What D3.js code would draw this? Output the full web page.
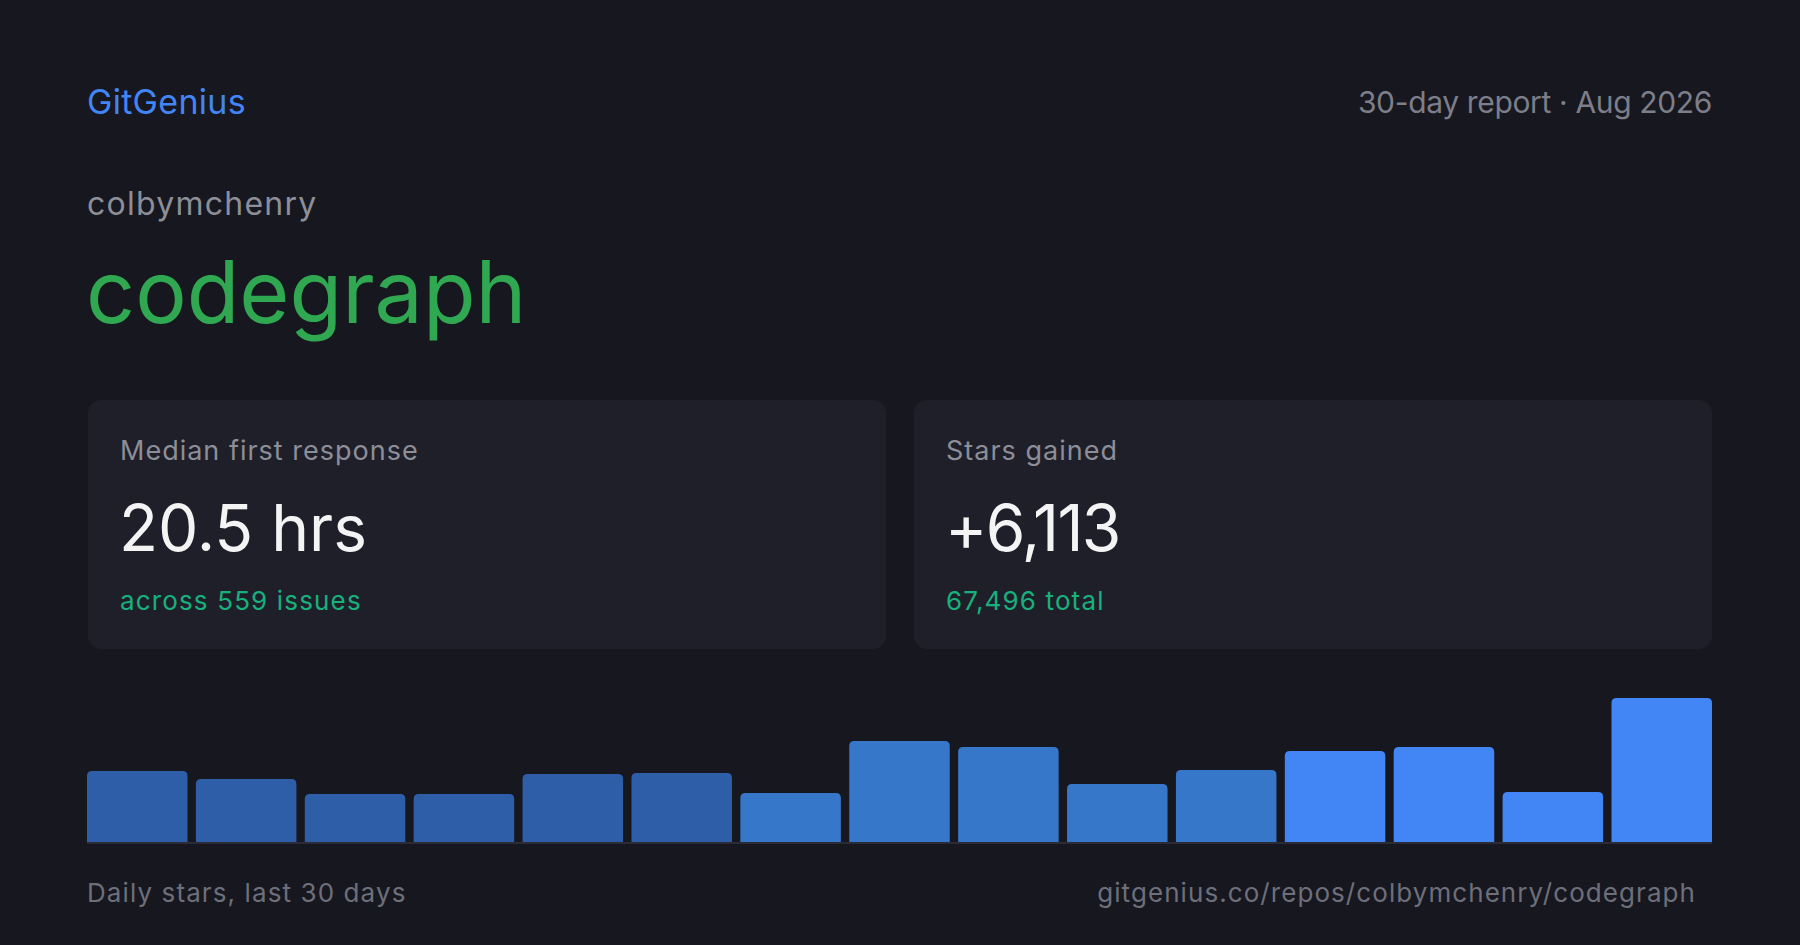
<!DOCTYPE html>
<html>
<head>
<meta charset="utf-8">
<script src="https://cdn.jsdelivr.net/npm/d3@7/dist/d3.min.js"></script>
<style>
  html, body { margin: 0; padding: 0; background: #17171f; }
  svg { display: block; }
  text { font-family: Inter, "Noto Sans", sans-serif; }
</style>
</head>
<body>
<svg id="chart" width="1800" height="945"></svg>
<script>
// ---- data ----
const brand = "GitGenius";
const reportLabel = "30-day report · Aug 2026";
const owner = "colbymchenry";
const repo = "codegraph";
const cardLabels = ["Median first response", "Stars gained"];
const cardValues = ["20.5 hrs", "+6,113"];
const cardSubs = ["across 559 issues", "67,496 total"];
const footerLeft = "Daily stars, last 30 days";
const footerRight = "gitgenius.co/repos/colbymchenry/codegraph";
const periods = d3.range(1, 16);
const dailyStars = [387, 343, 262, 262, 371, 376, 267, 550, 518, 316, 392, 496, 518, 272, 785];
const barTier = [0, 0, 0, 0, 0, 0, 1, 1, 1, 1, 1, 2, 2, 2, 2];

// ---- style ----
const W = 1800, H = 945, padX = 88;
const bg = "#17171f", cardBg = "#1f1f2a";
const tierColors = ["#2e5ea8", "#3777ca", "#4285f4"];
const valueSpacing = [0, -1.6];

const svg = d3.select("#chart");
svg.append("rect").attr("width", W).attr("height", H).attr("fill", bg);

// header
svg.append("text").attr("x", padX - 1).attr("y", 114).attr("font-size", 34)
  .attr("letter-spacing", 0.3).attr("fill", "#4285f4").text(brand);
svg.append("text").attr("x", W - padX).attr("y", 113).attr("font-size", 30)
  .attr("letter-spacing", -0.35).attr("text-anchor", "end").attr("fill", "#7c7e89").text(reportLabel);
svg.append("text").attr("x", padX - 1).attr("y", 215).attr("font-size", 32)
  .attr("letter-spacing", 1.25).attr("fill", "#8c8e98").text(owner);
svg.append("text").attr("x", padX - 2).attr("y", 323).attr("font-size", 86)
  .attr("fill", "#2fa851").text(repo);

// cards
const gap = 28;
const cardW = (W - 2 * padX - gap) / 2;
const cardX = d3.scaleOrdinal().domain([0, 1]).range([padX, padX + cardW + gap]);
const cards = svg.selectAll("g.card").data(cardLabels.map((l, i) => ({ l, v: cardValues[i], s: cardSubs[i], i })))
  .join("g").attr("class", "card")
  .attr("transform", d => `translate(${cardX(d.i)},400)`);
cards.append("rect").attr("width", cardW).attr("height", 249).attr("rx", 13).attr("fill", cardBg);
cards.append("text").attr("x", 32).attr("y", 60).attr("font-size", 27).attr("letter-spacing", 1.0)
  .attr("fill", "#8c8e98").text(d => d.l);
cards.append("text").attr("x", 31).attr("y", 151).attr("font-size", 64)
  .attr("letter-spacing", d => valueSpacing[d.i]).attr("fill", "#f4f4f4").text(d => d.v);
cards.append("text").attr("x", 32).attr("y", 210).attr("font-size", 26).attr("letter-spacing", 1.15)
  .attr("fill", "#18b07c").text(d => d.s);

// bar chart
const baseY = 842, topY = 698;
const x = d3.scaleBand().domain(periods).range([padX - 1, W - padX]).paddingInner(0.077).paddingOuter(0);
const y = d3.scaleLinear().domain([0, d3.max(dailyStars)]).range([baseY, topY]);
const r = 5;
function barPath(x0, y0, w, yb) {
  return `M${x0},${yb}V${y0 + r}Q${x0},${y0} ${x0 + r},${y0}H${x0 + w - r}Q${x0 + w},${y0} ${x0 + w},${y0 + r}V${yb}Z`;
}
svg.append("g").selectAll("path").data(periods)
  .join("path")
  .attr("d", (p, i) => barPath(x(p), y(dailyStars[i]), x.bandwidth(), baseY))
  .attr("fill", (p, i) => tierColors[barTier[i]]);
svg.append("rect").attr("x", padX - 1).attr("y", baseY).attr("width", W - 2 * padX + 1).attr("height", 2).attr("fill", "#2b2b37");

// footer
svg.append("text").attr("x", padX - 1).attr("y", 902).attr("font-size", 26).attr("letter-spacing", 1.1)
  .attr("fill", "#6d6f7b").text(footerLeft);
svg.append("text").attr("x", 1696).attr("y", 902).attr("font-size", 26).attr("letter-spacing", 1.07)
  .attr("text-anchor", "end").attr("fill", "#6d6f7b").text(footerRight);
</script>
</body>
</html>
